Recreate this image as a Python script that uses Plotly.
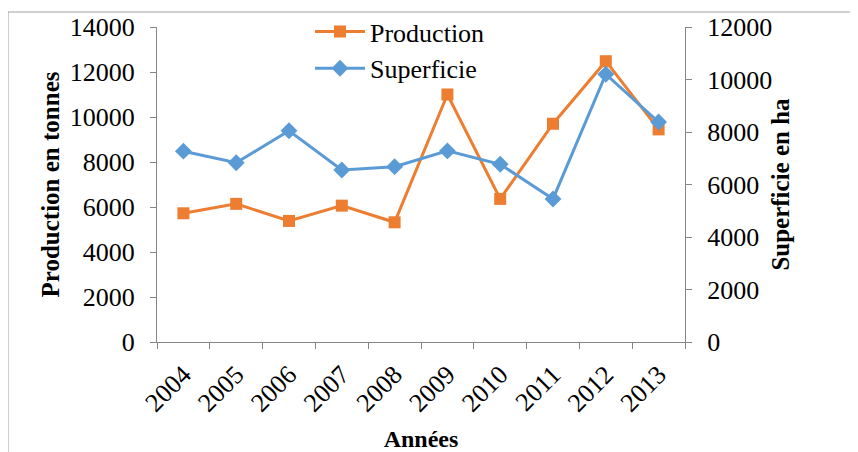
import plotly.graph_objects as go

years = ["2004", "2005", "2006", "2007", "2008", "2009", "2010", "2011", "2012", "2013"]
production = [5720, 6140, 5380, 6060, 5320, 11000, 6360, 9700, 12480, 9450]
superficie = [7270, 6830, 8050, 6550, 6680, 7280, 6770, 5450, 10200, 8380]

left_ticks = [0, 2000, 4000, 6000, 8000, 10000, 12000, 14000]
right_ticks = [0, 2000, 4000, 6000, 8000, 10000, 12000]

font_family = "Liberation Serif, Times New Roman, serif"
axis_color = "#868686"

fig = go.Figure()

fig.add_trace(go.Scatter(
    x=years, y=production, name="Production",
    mode="lines+markers",
    line=dict(color="#ED7D31", width=3),
    marker=dict(symbol="square", size=12, color="#ED7D31"),
))

fig.add_trace(go.Scatter(
    x=years, y=superficie, name="Superficie",
    mode="lines+markers", yaxis="y2",
    line=dict(color="#5B9BD5", width=3),
    marker=dict(symbol="diamond", size=13, color="#5B9BD5"),
))

# the page body adds an 8px offset, so work in a slightly smaller canvas
off = 8
W, H = 858 - off, 452 - off
L, R, T, B = 157 - off, 685 - off, 27 - off, 342 - off

fig.update_layout(
    width=W, height=H,
    margin=dict(l=L, r=W - R, t=T, b=H - B, autoexpand=False),
    paper_bgcolor="white", plot_bgcolor="white",
    font=dict(family=font_family, size=24, color="#000000"),
    showlegend=True,
    legend=dict(
        x=(310 - 157) / (R - L), y=1.06, xanchor="left", yanchor="top",
        bgcolor="rgba(0,0,0,0)", font=dict(size=26),
        itemwidth=50, tracegroupgap=0,
    ),
    xaxis=dict(
        type="category", range=[-0.5, len(years) - 0.5], tickangle=-45,
        tickson="boundaries", ticks="outside", ticklen=6, tickcolor=axis_color,
        showline=True, linecolor=axis_color, linewidth=1,
        showgrid=False, tickfont=dict(size=26),
        ticklabelstandoff=6,
        title=dict(text="<b>Années</b>", font=dict(size=24), standoff=14),
    ),
    yaxis=dict(
        range=[0, 14000], tickvals=left_ticks, tickformat="d", ticks="outside", ticklen=6,
        tickcolor=axis_color, showline=True, linecolor=axis_color,
        showgrid=False, zeroline=False, tickfont=dict(size=26),
        ticklabelstandoff=10,
        title=dict(text="<b>Production en tonnes</b>", font=dict(size=25), standoff=3),
    ),
    yaxis2=dict(
        range=[0, 12000], tickvals=right_ticks, tickformat="d", overlaying="y", side="right",
        ticks="outside", ticklen=6, tickcolor=axis_color, showline=True,
        linecolor=axis_color, showgrid=False, zeroline=False, tickfont=dict(size=26),
        ticklabelstandoff=10,
        title=dict(text="<b>Superficie en ha</b>", font=dict(size=25), standoff=0),
    ),
)

# outer chart border
pw, ph = R - L, B - T
fig.add_shape(type="rect", xref="paper", yref="paper",
              x0=(0 - L) / pw, x1=(W + 10 - L) / pw,
              y0=(B - (H + 10)) / ph, y1=(B - 4) / ph,
              line=dict(color="#A0A0A0", width=1), layer="below")

fig.write_html("out.html")
